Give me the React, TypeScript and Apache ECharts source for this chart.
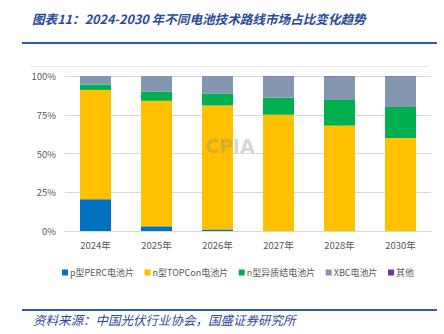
import React, { useEffect, useRef } from "react";
import * as echarts from "echarts";

const categories = ["2024年", "2025年", "2026年", "2027年", "2028年", "2030年"];
const perc = [20.5, 3, 1, 0, 0, 0];
const topcon = [70.5, 81, 80, 75, 68, 60];
const hjt = [3.5, 6, 7.5, 11, 16.5, 20];
const xbc = [5.5, 10, 11.5, 13.7, 15.2, 19.7];
const other = [0, 0, 0, 0.3, 0.3, 0.3];
const seriesNames = ["p型PERC电池片", "n型TOPCon电池片", "n型异质结电池片", "XBC电池片", "其他"];
const seriesColors = ["#0070C0", "#FFC000", "#00B050", "#8497B0", "#7030A0"];
const titleText = "图表11：2024-2030 年不同电池技术路线市场占比变化趋势";
const sourceText = "资料来源：中国光伏行业协会，国盛证券研究所";

const FONT = "'Noto Sans CJK SC', 'Noto Sans', sans-serif";

export default function App() {
  const ref = useRef<HTMLDivElement>(null);
  useEffect(() => {
    document.body.style.margin = "0";
    if (!ref.current) return;
    const chart = echarts.init(ref.current, null, { renderer: "svg" });
    const dataSets = [perc, topcon, hjt, xbc, other];
    chart.setOption({
      animation: false,
      backgroundColor: "#ffffff",
      textStyle: { fontFamily: FONT },
      grid: { left: 65, right: 13, top: 76, bottom: 103 },
      legend: {
        left: 57,
        top: 263,
        width: 400,
        icon: "rect",
        itemWidth: 6,
        itemHeight: 6,
        itemGap: 10.5,
        textStyle: { fontSize: 9, color: "#595959", fontFamily: FONT, padding: [0, 0, 0, -3] },
        data: seriesNames,
      },
      xAxis: {
        type: "category",
        data: categories,
        axisLine: { show: true, lineStyle: { color: "#D9D9D9" } },
        axisTick: { show: false },
        axisLabel: { fontSize: 9.5, color: "#595959", margin: 9, fontFamily: FONT },
      },
      yAxis: {
        type: "value",
        min: 0,
        max: 100,
        interval: 25,
        axisLine: { show: false },
        axisTick: { show: false },
        splitLine: { lineStyle: { color: "#D9D9D9", width: 1 } },
        axisLabel: { formatter: "{value}%", fontSize: 9.5, color: "#595959", margin: 9, fontFamily: FONT },
      },
      series: dataSets.map((d, i) => ({
        name: seriesNames[i],
        type: "bar",
        stack: "total",
        barWidth: 31,
        data: d,
        itemStyle: { color: seriesColors[i] },
      })),
      graphic: [
        {
          type: "text",
          left: 32,
          top: 12.5,
          style: {
            text: titleText,
            fontSize: 12.6,
            fontStyle: "italic",
            fontWeight: "bold",
            fill: "#2A4A9A",
            fontFamily: FONT,
          },
        },
        {
          type: "line",
          shape: { x1: 22, y1: 43, x2: 437, y2: 43 },
          style: { stroke: "#2E5AAC", lineWidth: 2 },
        },
        {
          type: "line",
          shape: { x1: 30, y1: 66.5, x2: 428, y2: 66.5 },
          style: { stroke: "#E6E6E6", lineWidth: 1 },
        },
        {
          type: "text",
          left: 205,
          top: 136,
          z: 100,
          style: {
            text: "CPIA",
            fontSize: 19,
            fontWeight: "bold",
            fill: "rgba(140,140,140,0.35)",
            fontFamily: "DejaVu Sans",
          },
        },
        {
          type: "line",
          shape: { x1: 22, y1: 310, x2: 437, y2: 310 },
          style: { stroke: "#2E5AAC", lineWidth: 2 },
        },
        {
          type: "text",
          left: 33,
          top: 313,
          style: {
            text: sourceText,
            fontSize: 12.5,
            fontStyle: "italic",
            fill: "#2A4A9A",
            fontFamily: FONT,
          },
        },
      ],
    });
    return () => chart.dispose();
  }, []);
  return <div ref={ref} style={{ width: 444, height: 334 }} />;
}
